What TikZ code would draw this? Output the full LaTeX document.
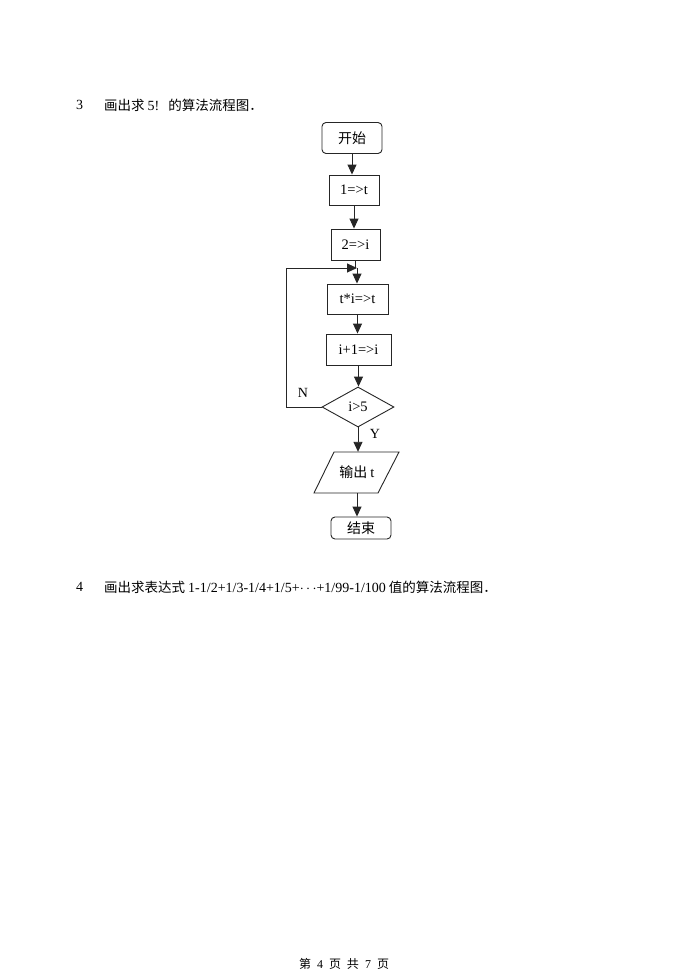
\documentclass[tikz,border=0pt]{standalone}
\usepackage{fontspec}
\setmainfont{Liberation Serif}
\newfontfamily\cjk{Noto Sans CJK SC}
\usetikzlibrary{arrows.meta,shapes.geometric}
\newcommand{\zh}[1]{{\fontsize{13.5}{15}\selectfont\cjk #1}}
\newcommand{\zhb}[1]{{\fontsize{14}{16}\selectfont\cjk #1}}
\begin{document}
\begin{tikzpicture}[x=1pt,y=-1pt,
  line/.style={draw=black!85,line width=0.9pt},
  arr/.style={line,-{Triangle[length=10pt,width=9pt]}},
  proc/.style={draw=black!85,line width=0.9pt,rectangle,inner sep=0pt,font=\fontsize{14.5}{16}\selectfont},
  term/.style={proc,rounded corners=4pt},
  txt/.style={inner sep=0pt,anchor=west,font=\fontsize{14}{16}\selectfont},
  lbl/.style={inner sep=0pt,font=\fontsize{14}{16}\selectfont}]
\useasboundingbox[fill=white] (0,0) rectangle (687,971);
\node[txt] (n3) at (76,105) {3};
\node[txt] (q3) at (104,105) {\zh{画出求}\hspace{3pt}5!\hspace{9pt}\zh{的算法流程图．}};
\node[term,minimum width=60pt,minimum height=31pt] (start) at (352,138) {\zhb{开始}};
\node[proc,minimum width=50pt,minimum height=30pt] (t1) at (354,190) {1=>t};
\node[proc,minimum width=49pt,minimum height=31pt] (i2) at (355.5,244.5) {2=>i};
\node[proc,minimum width=61pt,minimum height=30pt] (mul) at (357.5,299) {t*i=>t};
\node[proc,minimum width=65pt,minimum height=31pt] (inc) at (358.5,349.5) {i+1=>i};
\node[diamond,draw=black!85,line width=0.9pt,inner sep=0pt,minimum width=72pt,minimum height=40pt,font=\fontsize{14.5}{16}\selectfont] (dec) at (358,407) {i>5};
\coordinate (p1) at (334,452);
\coordinate (p2) at (399,452);
\coordinate (p3) at (378,493);
\coordinate (p4) at (314,493);
\draw[line] (p1) -- (p2) -- (p3) -- (p4) -- cycle;
\node[inner sep=0pt,minimum width=40pt,minimum height=41pt,font=\fontsize{14.5}{16}\selectfont] (out) at (357,472.5) {\zhb{输出}\hspace{3pt}t};
\node[term,minimum width=60pt,minimum height=22pt] (end) at (361,528) {\zhb{结束}};
\coordinate (join) at (357,268);
\coordinate (lc) at (286,407);
\draw[arr] (start.south) -- (start.south |- t1.north);
\draw[arr] (t1.south) -- (t1.south |- i2.north);
\draw[line] (i2.south) -- (i2.south |- join);
\draw[arr] (join) -- (join |- mul.north);
\draw[arr] (mul.south) -- (mul.south |- inc.north);
\draw[arr] (inc.south) -- (inc.south |- dec.north);
\draw[arr] (dec.west) -- (lc) -- (lc |- join) -- (join);
\draw[arr] (dec.south) -- (dec.south |- out.north);
\draw[arr] (out.south) -- (out.south |- end.north);
\node[lbl] (N) at (303,393) {N};
\node[lbl] (Y) at (375,434) {Y};
\node[txt] (n4) at (76,587) {4};
\node[txt] (q4) at (104,587) {\zh{画出求表达式}\hspace{3pt}1-1/2+1/3-1/4+1/5+$\cdots$+1/99-1/100\hspace{3pt}\zh{值的算法流程图．}};
\node[inner sep=0pt,font=\fontsize{12}{14}\selectfont] (foot) at (344,964) {{\cjk 第}\hspace{6pt}4\hspace{6pt}{\cjk 页}\hspace{6pt}{\cjk 共}\hspace{6pt}7\hspace{6pt}{\cjk 页}};
\end{tikzpicture}
\end{document}
